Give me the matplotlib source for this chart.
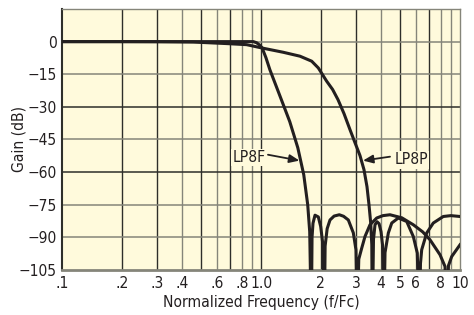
import matplotlib
matplotlib.use("Agg")
import matplotlib.pyplot as plt

# Values (frequency normalised to Fc, gain in dB)
lp8f_freq = [0.1, 0.2, 0.4, 0.6, 0.8, 0.915, 0.95, 0.985, 1.012, 1.059, 1.108, 1.243,
             1.395, 1.531, 1.64, 1.717, 1.757, 1.79,
             1.805, 1.825, 1.868, 1.941, 1.995, 2.042, 2.08,
             2.10, 2.15, 2.222, 2.33, 2.475, 2.60, 2.747, 2.91, 3.0, 3.04,
             3.10, 3.206, 3.331, 3.53, 3.814, 4.1, 4.447, 5.1, 5.826, 6.5, 7.067, 7.936,
             8.41, 8.576,
             8.75, 9.086, 10.0]
lp8f_gain = [0, 0, 0, 0, 0, 0, -0.5, -1.6, -2.8, -7.4, -12.9, -24.8,
             -36.8, -48.8, -61.2, -75, -87.4, -130,
             -90, -83.5, -79.8, -80.6, -85, -92.6, -130,
             -94, -86, -82.0, -80.2, -79.6, -80.3, -82.0, -87.9, -95.7, -130,
             -100, -95.0, -89.6, -84.2, -81.1, -80.0, -79.6, -81.0, -84.2, -87.5, -91.1, -98,
             -103.4, -130,
             -103, -98.8, -93.4]

lp8p_freq = [0.1, 0.2, 0.3, 0.457, 0.672, 0.847, 1.008, 1.294, 1.57, 1.798, 1.941,
             2.138, 2.29, 2.438, 2.613, 2.801, 2.968, 3.144, 3.293, 3.409, 3.489, 3.558,
             3.604, 3.625,
             3.675, 3.74, 3.83, 3.92, 4.01, 4.08, 4.14,
             4.20, 4.363, 4.539, 4.897, 5.398, 5.826, 6.1, 6.245,
             6.33, 6.42, 6.80, 7.34, 8.24, 9.0, 10.0]
lp8p_gain = [0, 0, -0.05, -0.2, -0.9, -1.4, -2.9, -4.9, -6.7, -9, -12.1,
             -18.2, -22, -26.7, -33.1, -40.5, -46.5, -52.4, -58.9, -66.7, -75, -83.3,
             -93.4, -130,
             -91, -84.2, -82.8, -83.7, -87.4, -93.4, -130,
             -97, -88, -83.4, -81.1, -82.7, -89.6, -97.2, -130,
             -102, -95.7, -88, -83.4, -80.4, -80.0, -80.4]

x_ticks = [0.1, 0.2, 0.3, 0.4, 0.6, 0.8, 1.0, 2, 3, 4, 5, 6, 8, 10]
x_labels = [".1", ".2", ".3", ".4", ".6", ".8", "1.0", "2", "3", "4", "5", "6", "8", "10"]
y_ticks = [0, -15, -30, -45, -60, -75, -90, -105]
y_labels = ["0", "\u221215", "\u221230", "\u221245", "\u221260", "\u221275", "\u221290", "\u2212105"]

plt.rcParams["font.family"] = ["DejaVu Sans"]
plt.rcParams["font.stretch"] = "condensed"
FS = 11.2

BG = "#fffadc"
INK = "#231f20"
DARK = "#2e2e2a"
GRAY = "#85857a"

fig = plt.figure(figsize=(4.74, 3.15), dpi=100)
ax = fig.add_axes([62 / 474, 1 - 270 / 315, 398 / 474, 261 / 315])
ax.set_facecolor(BG)
ax.set_xscale("log")
ax.set_xlim(0.1, 10)
ax.set_ylim(-105, 15)

# grid: every 1..9 step of each decade
dark_steps = {1, 2, 3, 5, 7}
for dec in (0.1, 1.0):
    for k in range(1, 10):
        if dec == 0.1 and k == 1:
            continue
        ax.axvline(dec * k, color=DARK if k in dark_steps else GRAY, lw=1.0, zorder=1)
for yv in y_ticks[:-1]:
    ax.axhline(yv, color=DARK if yv in (-30, -60) else GRAY, lw=1.1, zorder=1)

ax.plot(lp8f_freq, lp8f_gain, color=INK, lw=2.2, solid_joinstyle="round", zorder=3)
ax.plot(lp8p_freq, lp8p_gain, color=INK, lw=2.2, solid_joinstyle="round", zorder=3)

ax.set_xticks(x_ticks)
ax.set_xticklabels(x_labels)
ax.xaxis.set_minor_locator(matplotlib.ticker.NullLocator())
ax.set_yticks(y_ticks)
ax.set_yticklabels(y_labels)
ax.tick_params(axis="both", length=0, labelsize=FS, colors=INK)
ax.tick_params(axis="x", pad=4)
ax.tick_params(axis="y", pad=4)

ax.set_xlabel("Normalized Frequency (f/Fc)", fontsize=FS, color=INK, labelpad=3)
ax.set_ylabel("Gain (dB)", fontsize=FS, color=INK, va="center")
ax.yaxis.set_label_coords(-0.108, 0.5)

for side in ("top", "right"):
    ax.spines[side].set_color(GRAY)
    ax.spines[side].set_linewidth(1.0)
ax.spines["left"].set_color(DARK)
ax.spines["left"].set_linewidth(1.5)
ax.spines["bottom"].set_color(GRAY)
ax.spines["bottom"].set_linewidth(2.0)

arrow = dict(arrowstyle="-|>,head_length=0.6,head_width=0.25", color=INK, lw=1.3,
             shrinkA=0, shrinkB=0)
ax.text(0.875, -53.3, "LP8F", fontsize=FS, color=INK, ha="center", va="center",
        bbox=dict(facecolor=BG, edgecolor="none", pad=1.0), zorder=4)
ax.annotate("", xy=(1.56, -54.7), xytext=(1.084, -52.0), arrowprops=arrow, zorder=4)
ax.text(5.67, -54.3, "LP8P", fontsize=FS, color=INK, ha="center", va="center",
        bbox=dict(facecolor=BG, edgecolor="none", pad=1.0), zorder=4)
ax.annotate("", xy=(3.254, -54.7), xytext=(4.45, -52.9), arrowprops=arrow, zorder=4)

fig.savefig("out.png", dpi=100)
